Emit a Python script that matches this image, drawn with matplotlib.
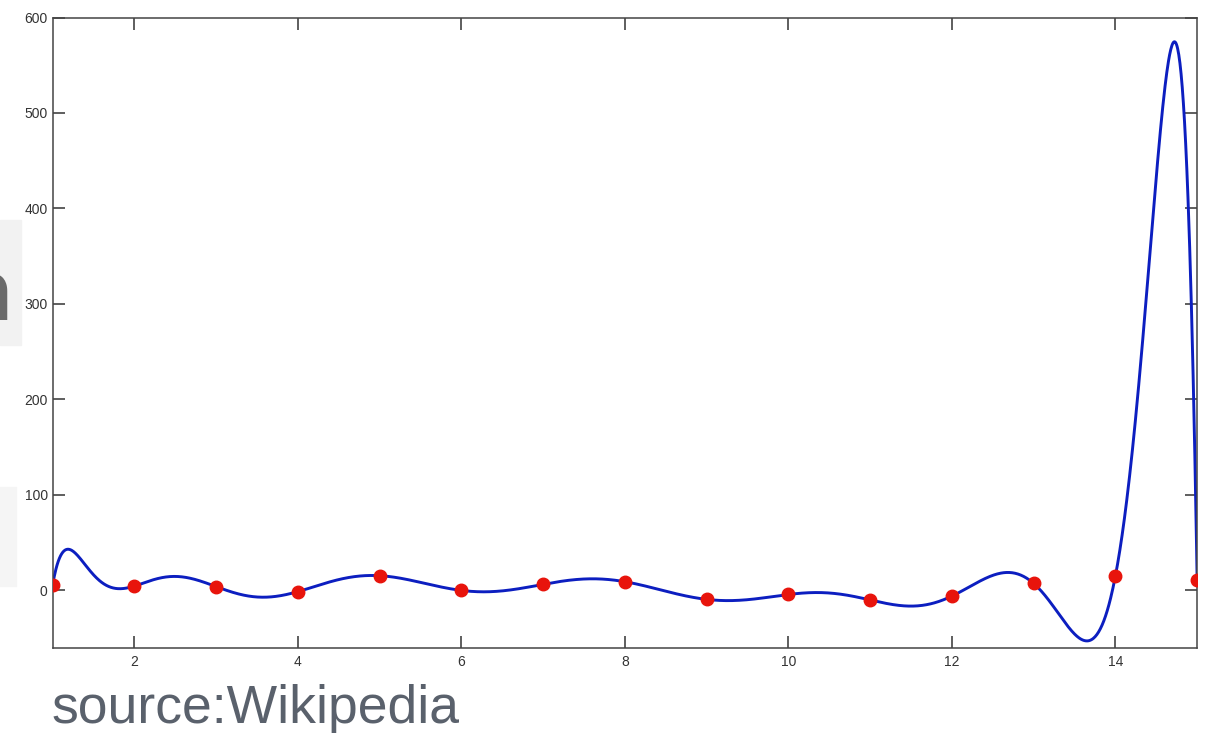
import numpy as np
import matplotlib
matplotlib.use("Agg")
import matplotlib.pyplot as plt
from numpy.polynomial import Polynomial

# sample points
xs = np.arange(1, 16)
ys = [5.2, 4.5, 4.0, -1.3, 15.4, 0.0, 6.3, 9.1, -9.4, -4.3, -10.0, -6.0, 7.3, 15.0, 11.2]

xticks = [2, 4, 6, 8, 10, 12, 14]
yticks = [0, 100, 200, 300, 400, 500, 600]

# degree-14 interpolating polynomial through the samples
p = Polynomial.fit(xs, ys, len(xs) - 1)
xx = np.linspace(1, 15, 2000)

fig = plt.figure(figsize=(12.08, 7.33), dpi=100)

# cropped slide artifacts on the left edge
fig.patches.append(plt.Rectangle((0, 0.53), 0.017, 0.17, transform=fig.transFigure,
                                 color='#f2f2f2', zorder=-1))
fig.patches.append(plt.Rectangle((0, 0.20), 0.013, 0.135, transform=fig.transFigure,
                                 color='#f5f5f5', zorder=-1))
fig.text(-0.0315, 0.5634, 'n', fontsize=66, color='#6a6a6a', family='Lato',
         va='baseline')

ax = fig.add_axes([0.0435, 0.1164, 0.9475, 0.8597])
ax.plot(xx, p(xx), color='#0c1ec0', lw=2.1, zorder=2)
ax.plot(xs, ys, 'o', color='#e8140c', ms=9, zorder=3)

ax.set_xlim(1, 15)
ax.set_ylim(-60, 600)
ax.set_xticks(xticks)
ax.set_yticks(yticks)
ax.tick_params(direction='in', top=True, right=True, length=8.5, width=1.1,
               labelsize=10, colors='#333333', pad=5)
ax.tick_params(axis='y', pad=3.5)
for lbl in ax.get_xticklabels() + ax.get_yticklabels():
    lbl.set_family('Liberation Sans')
for s in ax.spines.values():
    s.set_color('#444444')
    s.set_linewidth(1.1)

fig.text(0.043, 0.0136, 'source:Wikipedia', fontsize=38.5, color='#5a616c',
         family='Liberation Sans', va='baseline')

fig.savefig('out.png', dpi=100)
